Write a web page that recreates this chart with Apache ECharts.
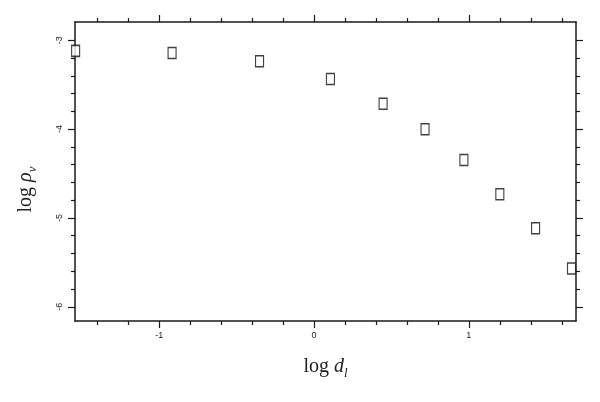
<!DOCTYPE html>
<html>
<head>
<meta charset="utf-8">
<script src="https://cdn.jsdelivr.net/npm/echarts@6/dist/echarts.min.js"></script>
<style>
  html, body { margin: 0; padding: 0; background: #fff; }
  #chart { width: 600px; height: 402px; }
</style>
</head>
<body>
<div id="chart"></div>
<script>
// measured points (log d_l, log rho_v)
var logD = [-1.54, -0.917, -0.352, 0.106, 0.446, 0.717, 0.968, 1.2, 1.431, 1.663];
var logRho = [-3.12, -3.143, -3.237, -3.437, -3.716, -4.003, -4.349, -4.733, -5.117, -5.57];

// ticks
var xMajor = [-1, 0, 1];
var xMinor = [-1.4, -1.2, -0.8, -0.6, -0.4, -0.2, 0.2, 0.4, 0.6, 0.8, 1.2, 1.4, 1.6];
var yMajor = [-3, -4, -5, -6];
var yMinor = [-3.2, -3.4, -3.6, -3.8, -4.2, -4.4, -4.6, -4.8, -5.2, -5.4, -5.6, -5.8, -6.0 - 0.0001];
yMinor.pop();

var xRange = [-1.544, 1.692];
var yRange = [-6.16, -2.795];

var ink = "#1a1a1a";
var serif = "'Liberation Serif', 'DejaVu Serif', serif";

// one axis = one set of ticks (major or minor) on one side
function axis(pos, range, ticks, len, withLine, withLabel, extra) {
  var a = {
    type: "value",
    position: pos,
    min: range[0],
    max: range[1],
    splitLine: { show: false },
    axisLine: { show: withLine, onZero: false, lineStyle: { color: ink, width: 1.5 } },
    axisTick: { show: true, inside: false, length: len, customValues: ticks,
      lineStyle: { color: ink, width: 1.2 } },
    axisLabel: { show: withLabel, customValues: ticks, color: "#222",
      fontSize: 9, fontFamily: "'Liberation Sans', Arial, sans-serif" }
  };
  return Object.assign(a, extra || {});
}

var chart = echarts.init(document.getElementById("chart"));

var option = {
  animation: false,
  backgroundColor: "#fff",
  grid: { left: 75, right: 24, top: 22, bottom: 81 },
  xAxis: [
    axis("bottom", xRange, xMajor, 7, true, true, {
      name: "{a|log }{i|d}{s|l}",
      nameLocation: "middle",
      nameGap: 33,
      nameTextStyle: {
        rich: {
          a: { fontSize: 20, fontFamily: serif, color: "#222", lineHeight: 26 },
          i: { fontSize: 20, fontFamily: serif, fontStyle: "italic", color: "#222", lineHeight: 26 },
          s: { fontSize: 13, fontFamily: serif, fontStyle: "italic", color: "#222", lineHeight: 10, verticalAlign: "bottom" }
        }
      }
    }),
    axis("bottom", xRange, xMinor, 4, false, false),
    axis("top", xRange, xMajor, 7, true, false),
    axis("top", xRange, xMinor, 4, false, false)
  ],
  yAxis: [
    axis("left", yRange, yMajor, 7, true, true, {
      name: "{a|log }{i|ρ}{s|v}",
      nameLocation: "middle",
      nameGap: 36,
      nameRotate: 90,
      nameTextStyle: {
        padding: [0, 36, 0, 0],
        rich: {
          a: { fontSize: 20, fontFamily: serif, color: "#222", lineHeight: 26 },
          i: { fontSize: 20, fontFamily: serif, fontStyle: "italic", color: "#222", lineHeight: 26 },
          s: { fontSize: 13, fontFamily: serif, fontStyle: "italic", color: "#222", lineHeight: 10, verticalAlign: "bottom" }
        }
      }
    }),
    axis("left", yRange, yMinor, 4, false, false),
    axis("right", yRange, yMajor, 7, true, false),
    axis("right", yRange, yMinor, 4, false, false)
  ],
  series: [
    {
      type: "scatter",
      xAxisIndex: 0,
      yAxisIndex: 0,
      symbol: "rect",
      symbolSize: [8, 11],
      clip: false,
      itemStyle: { color: "#fff", borderColor: "#111", borderWidth: 1.3 },
      data: logD.map(function (d, i) { return [d, logRho[i]]; })
    }
  ]
};

// rotate y tick labels like the original
option.yAxis[0].axisLabel.rotate = 90;
option.yAxis[0].axisLabel.margin = 11;
option.xAxis[0].axisLabel.margin = 10;

chart.setOption(option);
</script>
</body>
</html>
